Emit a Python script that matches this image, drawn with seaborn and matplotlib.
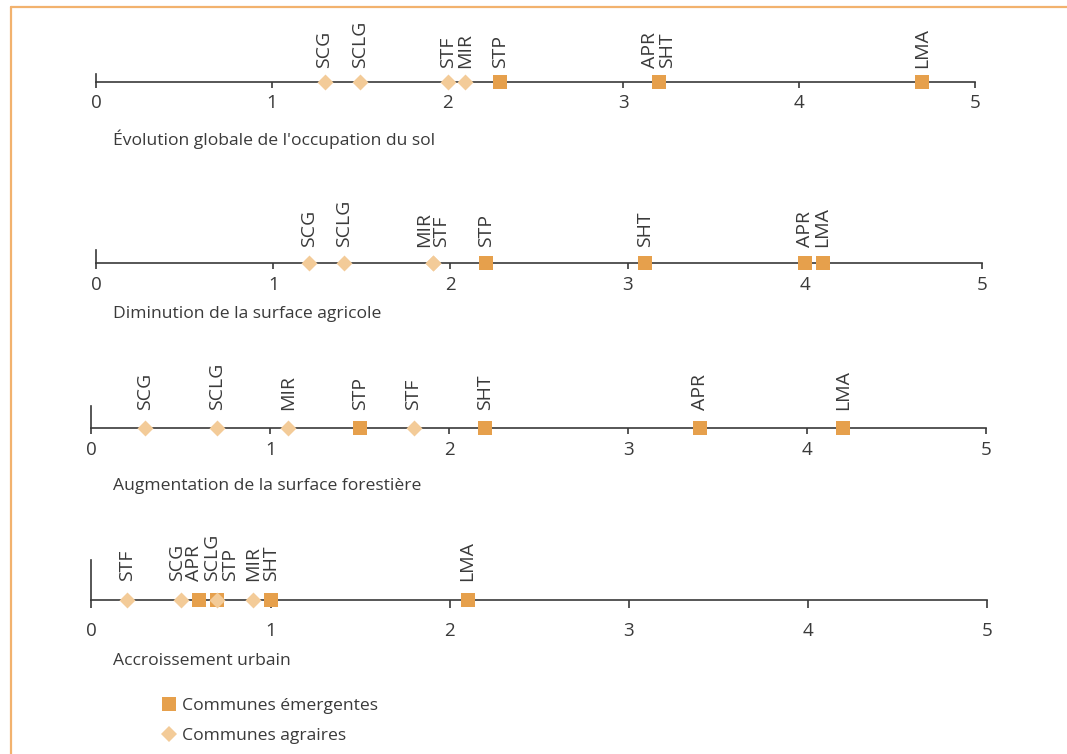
import numpy as np
import pandas as pd
import matplotlib
matplotlib.use("Agg")
import matplotlib.pyplot as plt
import seaborn as sns
from matplotlib.lines import Line2D

# ---------------- data ----------------
communes = ["SCG", "SCLG", "MIR", "STF", "STP", "APR", "SHT", "LMA"]
groupes = ["Communes agraires"] * 4 + ["Communes émergentes"] * 4
evolution_globale = [1.3, 1.5, 2.1, 2.0, 2.3, 3.2, 3.2, 4.7]
diminution_agricole = [1.2, 1.4, 1.9, 1.9, 2.2, 4.0, 3.1, 4.1]
augmentation_forestiere = [0.3, 0.7, 1.1, 1.8, 1.5, 3.4, 2.2, 4.2]
accroissement_urbain = [0.5, 0.7, 0.9, 0.2, 0.7, 0.6, 1.0, 2.1]
titres = ["Évolution globale de l'occupation du sol",
          "Diminution de la surface agricole",
          "Augmentation de la surface forestière",
          "Accroissement urbain"]
graduations = [0, 1, 2, 3, 4, 5]
legende = ["Communes émergentes", "Communes agraires"]

series = [evolution_globale, diminution_agricole, augmentation_forestiere, accroissement_urbain]

# ---------------- style ----------------
W, H = 1067, 754
C_EMERG = "#E6A04C"
C_AGR = "#F3CB98"
C_AXE = "#3a3a3a"
C_TXT = "#3a3a3a"
C_CADRE = "#F2B26E"
FONT = "Open Sans"
FS = 12.6
FS_TICK = 13.5
FS_LAB = 14

sns.set_theme(style="white")
plt.rcParams["font.family"] = [FONT, "DejaVu Sans"]

# panel layout in pixels
panneaux = [
    dict(x0=96, x5=975, ay=81.5, up=8, tl=6, pad=5.0, lo=14, ty=145),
    dict(x0=96, x5=982, ay=263, up=13, tl=6, pad=5.0, lo=16, ty=318),
    dict(x0=91.5, x5=986, ay=428, up=22, tl=6, pad=5.0, lo=18, ty=490),
    dict(x0=91.5, x5=987, ay=600, up=40, tl=8, pad=10.0, lo=19, ty=665),
]


def etaler(valeurs, ecart):
    """spread label positions so that they do not overlap"""
    ordre = sorted(range(len(valeurs)), key=lambda i: valeurs[i])
    grp = [[i] for i in ordre]

    def positions(g):
        c = np.mean([valeurs[i] for i in g])
        n = len(g)
        return [c + (k - (n - 1) / 2) * ecart for k in range(n)]

    fusion = True
    while fusion:
        fusion = False
        for k in range(len(grp) - 1):
            if positions(grp[k + 1])[0] - positions(grp[k])[-1] < ecart - 1e-9:
                grp[k] = grp[k] + grp[k + 1]
                del grp[k + 1]
                fusion = True
                break
    res = [0.0] * len(valeurs)
    for g in grp:
        for i, p in zip(g, positions(g)):
            res[i] = p
    return res


fig = plt.figure(figsize=(W / 100, H / 100), dpi=100)
fig.patch.set_facecolor("white")

for vals, titre, p in zip(series, titres, panneaux):
    below, above = 50, 40
    ax = fig.add_axes([p["x0"] / W, (H - (p["ay"] + below)) / H,
                       (p["x5"] - p["x0"]) / W, (below + above) / H])
    ax.set_facecolor("none")
    df = pd.DataFrame({"commune": communes, "groupe": groupes, "valeur": vals})
    df["base"] = 0.0
    em = df[df["groupe"] == "Communes émergentes"]
    ag = df[df["groupe"] == "Communes agraires"]
    sns.scatterplot(data=em, x="valeur", y="base", marker="s", s=100, color=C_EMERG,
                    linewidth=0, ax=ax, zorder=3, legend=False)
    sns.scatterplot(data=ag, x="valeur", y="base", marker="D", s=66, color=C_AGR,
                    linewidth=0, ax=ax, zorder=4, legend=False)
    ax.set_xlim(graduations[0], graduations[-1])
    ax.set_ylim(-below, above)
    ax.set_xlabel("")
    ax.set_ylabel("")
    ax.set_yticks([])
    ax.set_xticks(graduations)
    ax.set_xticklabels([str(g) for g in graduations])
    for s in ["top", "right"]:
        ax.spines[s].set_visible(False)
    ax.spines["bottom"].set_position(("data", 0))
    ax.spines["bottom"].set_bounds(graduations[0], graduations[-1])
    ax.spines["bottom"].set_color(C_AXE)
    ax.spines["bottom"].set_linewidth(1.2)
    ax.spines["left"].set_position(("data", 0))
    ax.spines["left"].set_bounds(0, p["up"])
    ax.spines["left"].set_color(C_AXE)
    ax.spines["left"].set_linewidth(1.2)
    ax.tick_params(axis="x", direction="out", length=p["tl"] * 0.72, width=1.2,
                   color=C_AXE, labelcolor=C_TXT, labelsize=FS_TICK, pad=p["pad"],
                   bottom=True)
    # commune labels
    lx = etaler(vals, 0.1)
    for name, x in zip(communes, lx):
        ax.text(x, p["lo"], name, rotation=90, ha="center", va="bottom",
                fontsize=FS_LAB, color=C_TXT)
    fig.text(113 / W, (H - p["ty"]) / H, titre, ha="left", va="baseline",
             fontsize=FS, color=C_TXT)

# legend
handles = [Line2D([], [], marker="s", ls="none", color=C_EMERG, ms=10, mew=0),
           Line2D([], [], marker="D", ls="none", color=C_AGR, ms=8.2, mew=0)]
fig.legend(handles, legende, loc="upper left", bbox_to_anchor=(151 / W, (H - 691) / H),
           frameon=False, fontsize=FS, handlelength=1.2, handletextpad=0.2,
           labelspacing=0.8, borderaxespad=0, labelcolor=C_TXT)

# orange frame
fig.add_artist(Line2D([10.5 / W, 1.0], [(H - 6.5) / H, (H - 6.5) / H],
                      transform=fig.transFigure, color=C_CADRE, lw=1.6))
fig.add_artist(Line2D([10.5 / W, 10.5 / W], [0, (H - 6.5) / H],
                      transform=fig.transFigure, color=C_CADRE, lw=1.6))

fig.savefig("out.png", dpi=100, facecolor="white")
